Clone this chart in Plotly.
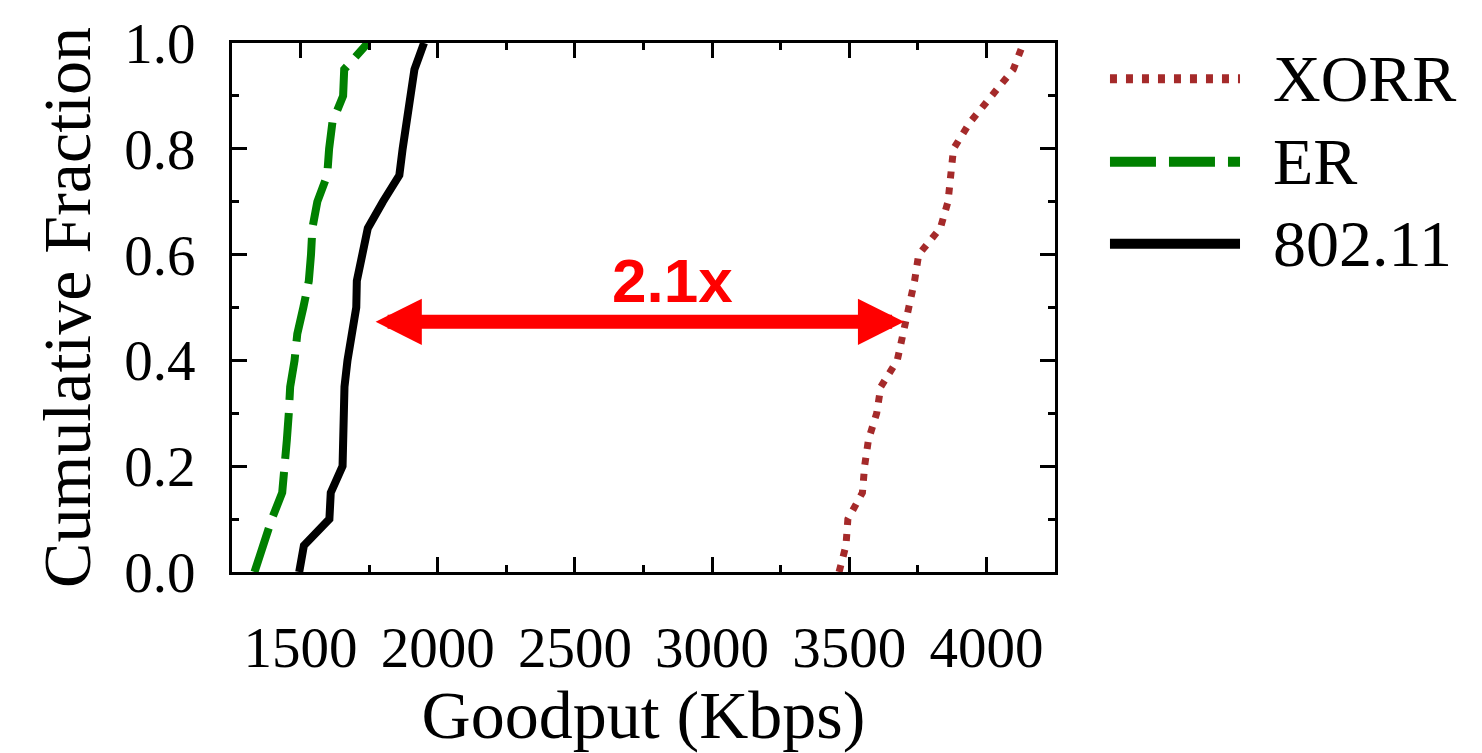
import plotly.graph_objects as go

# Cumulative fraction levels shared by the three CDFs
fraction = [0.00, 0.05, 0.10, 0.15, 0.20, 0.25, 0.30, 0.35, 0.40, 0.45, 0.50,
            0.55, 0.60, 0.65, 0.70, 0.75, 0.80, 0.85, 0.90, 0.95, 1.00]

# Goodput samples (Kbps) at each fraction level
xorr_goodput = [3463, 3488, 3495, 3548, 3556, 3570, 3600, 3615, 3675, 3698, 3715,
                3738, 3753, 3832, 3860, 3873, 3880, 3940, 4022, 4098, 4135]
er_goodput = [1332, 1360, 1395, 1433, 1444, 1450, 1457, 1462, 1478, 1488, 1510,
              1530, 1538, 1543, 1561, 1597, 1604, 1616, 1655, 1659, 1745]
dot11_goodput = [1495, 1512, 1605, 1610, 1653, 1654, 1655, 1660, 1671, 1690, 1703,
                 1705, 1725, 1745, 1800, 1860, 1872, 1885, 1898, 1915, 1950]

series_names = ["XORR", "ER", "802.11"]
x_tick_values = [1500, 2000, 2500, 3000, 3500, 4000]
y_tick_values = [0.0, 0.2, 0.4, 0.6, 0.8, 1.0]

# Gain annotation: arrow between the 802.11 and XORR medians
gain_label = "2.1x"
gain_from = 1768
gain_to = 3700
gain_level = 0.473

SERIF = "Liberation Serif"
styles = {
    "XORR": dict(color="#a52a2a", width=7, dash="7px,9px"),
    "ER": dict(color="#008000", width=8, dash="46px,13px"),
    "802.11": dict(color="#000000", width=8, dash="solid"),
}

fig = go.Figure()
for name, xs in zip(series_names, [xorr_goodput, er_goodput, dot11_goodput]):
    fig.add_trace(go.Scatter(x=xs, y=fraction, mode="lines", name=name,
                             line=styles[name], showlegend=False))

axis_common = dict(
    showline=True, linecolor="black", linewidth=3, mirror="allticks",
    ticks="inside", ticklen=15, tickwidth=3, tickcolor="black",
    showgrid=False, zeroline=False,
    tickfont=dict(family=SERIF, size=57, color="black"),
    title_font=dict(family=SERIF, size=68, color="black"),
)

fig.update_xaxes(range=[1250, 4250], tickvals=x_tick_values,
                 title_text="Goodput (Kbps)", title_standoff=14,
                 ticklabelstandoff=24,
                 minor=dict(dtick=250, tick0=1250, ticks="inside", ticklen=7,
                            tickwidth=3, tickcolor="black"),
                 **axis_common)
fig.update_yaxes(range=[0, 1], tickvals=y_tick_values, tickformat=".1f",
                 title_text="Cumulative Fraction", title_standoff=12,
                 ticklabelstandoff=22,
                 minor=dict(dtick=0.1, tick0=0, ticks="inside", ticklen=7,
                            tickwidth=3, tickcolor="black"),
                 **axis_common)

# Double-headed arrow and its label
fig.add_annotation(x=gain_to, y=gain_level, ax=gain_from, ay=gain_level,
                   xref="x", yref="y", axref="x", ayref="y", text="",
                   showarrow=True, arrowside="end+start",
                   arrowhead=2, startarrowhead=2,
                   arrowsize=0.66, startarrowsize=0.66,
                   arrowwidth=14, arrowcolor="#ff0000")
fig.add_annotation(x=(gain_from + gain_to) / 2 + 120, y=gain_level + 0.078,
                   xref="x", yref="y", text="<b>" + gain_label + "</b>",
                   showarrow=False,
                   font=dict(family="Liberation Sans", size=62, color="#ff0000"))

# Legend drawn at the right of the axes with long line samples
legend_rows = [0.9325, 0.7755, 0.6204]
for name, yrow in zip(series_names, legend_rows):
    st = styles[name]
    fig.add_shape(type="line", xref="paper", yref="paper",
                  x0=1.0668, x1=1.2248, y0=yrow, y1=yrow,
                  line=dict(color=st["color"], width=st["width"] + 2,
                            dash=st["dash"]))
    fig.add_annotation(xref="paper", yref="paper", x=1.262, y=yrow,
                       xanchor="left", yanchor="middle", text=name,
                       showarrow=False,
                       font=dict(family=SERIF, size=66, color="black"))

fig.update_layout(
    width=1482, height=753,
    margin=dict(l=232, r=427, t=35, b=170),
    paper_bgcolor="white", plot_bgcolor="white",
)

fig.write_html("out.html")
